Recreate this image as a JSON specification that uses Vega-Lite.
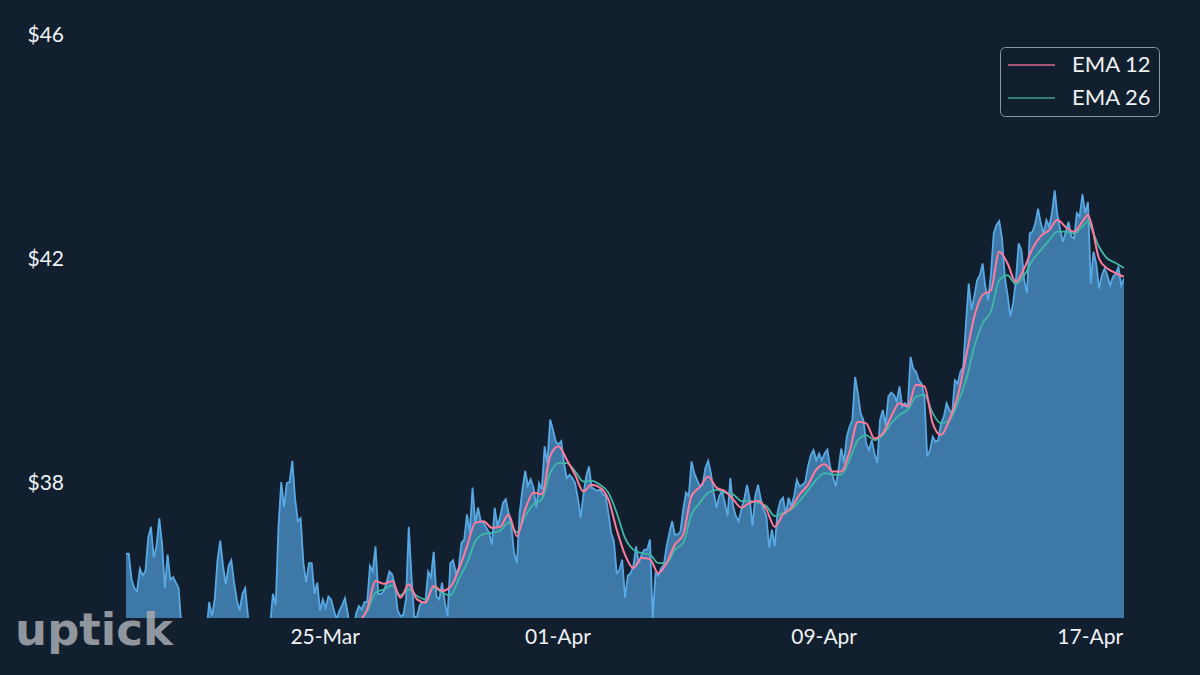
{"$schema":"https://vega.github.io/schema/vega-lite/v6.json","width":998,"height":598,"autosize":{"type":"none"},"padding":{"left":126,"top":20,"right":76,"bottom":57},"background":"#121f2e","config":{"view":{"stroke":null},"font":"Lato","axis":{"grid":false,"ticks":false,"domain":false,"title":null,"labelFont":"Lato","labelFontSize":21,"labelColor":"#eef2f5"}},
"datasets":{"price":[
{"t":"2019-03-19T00:00Z","p":36.72},{"t":"2019-03-19T02:00Z","p":36.72},{"t":"2019-03-19T04:00Z","p":36.26},{"t":"2019-03-19T06:00Z","p":36.1},{"t":"2019-03-19T08:00Z","p":36.05},{"t":"2019-03-19T10:00Z","p":36.45},{"t":"2019-03-19T12:00Z","p":36.33},{"t":"2019-03-19T14:00Z","p":36.4},{"t":"2019-03-19T16:00Z","p":37.0},{"t":"2019-03-19T18:00Z","p":37.2},{"t":"2019-03-19T20:00Z","p":36.65},{"t":"2019-03-19T22:00Z","p":36.85},
{"t":"2019-03-20T00:00Z","p":37.35},{"t":"2019-03-20T02:00Z","p":36.9},{"t":"2019-03-20T04:00Z","p":36.1},{"t":"2019-03-20T06:00Z","p":36.7},{"t":"2019-03-20T08:00Z","p":36.25},{"t":"2019-03-20T10:00Z","p":36.3},{"t":"2019-03-20T12:00Z","p":36.2},{"t":"2019-03-20T14:00Z","p":36.1},{"t":"2019-03-20T16:00Z","p":35.4},{"t":"2019-03-20T18:00Z","p":35.3},{"t":"2019-03-20T20:00Z","p":35.3},{"t":"2019-03-20T22:00Z","p":35.3},
{"t":"2019-03-21T00:00Z","p":35.3},{"t":"2019-03-21T02:00Z","p":35.3},{"t":"2019-03-21T04:00Z","p":35.3},{"t":"2019-03-21T06:00Z","p":35.3},{"t":"2019-03-21T08:00Z","p":35.3},{"t":"2019-03-21T10:00Z","p":35.3},{"t":"2019-03-21T12:00Z","p":35.85},{"t":"2019-03-21T14:00Z","p":35.6},{"t":"2019-03-21T16:00Z","p":35.9},{"t":"2019-03-21T18:00Z","p":36.6},{"t":"2019-03-21T20:00Z","p":36.95},{"t":"2019-03-21T22:00Z","p":36.5},
{"t":"2019-03-22T00:00Z","p":36.17},{"t":"2019-03-22T02:00Z","p":36.5},{"t":"2019-03-22T04:00Z","p":36.6},{"t":"2019-03-22T06:00Z","p":36.2},{"t":"2019-03-22T08:00Z","p":35.88},{"t":"2019-03-22T10:00Z","p":35.7},{"t":"2019-03-22T12:00Z","p":36.0},{"t":"2019-03-22T14:00Z","p":36.1},{"t":"2019-03-22T16:00Z","p":35.6},{"t":"2019-03-22T18:00Z","p":35.3},{"t":"2019-03-22T20:00Z","p":35.3},{"t":"2019-03-22T22:00Z","p":35.3},
{"t":"2019-03-23T00:00Z","p":35.3},{"t":"2019-03-23T02:00Z","p":35.3},{"t":"2019-03-23T04:00Z","p":35.3},{"t":"2019-03-23T06:00Z","p":35.3},{"t":"2019-03-23T08:00Z","p":35.45},{"t":"2019-03-23T10:00Z","p":36.0},{"t":"2019-03-23T12:00Z","p":35.8},{"t":"2019-03-23T14:00Z","p":37.2},{"t":"2019-03-23T16:00Z","p":38.0},{"t":"2019-03-23T18:00Z","p":37.55},{"t":"2019-03-23T20:00Z","p":37.98},{"t":"2019-03-23T22:00Z","p":38.0},
{"t":"2019-03-24T00:00Z","p":38.38},{"t":"2019-03-24T02:00Z","p":37.7},{"t":"2019-03-24T04:00Z","p":37.3},{"t":"2019-03-24T06:00Z","p":37.35},{"t":"2019-03-24T08:00Z","p":36.55},{"t":"2019-03-24T10:00Z","p":36.2},{"t":"2019-03-24T12:00Z","p":36.55},{"t":"2019-03-24T14:00Z","p":36.55},{"t":"2019-03-24T16:00Z","p":36.0},{"t":"2019-03-24T18:00Z","p":36.2},{"t":"2019-03-24T20:00Z","p":35.7},{"t":"2019-03-24T22:00Z","p":35.9},
{"t":"2019-03-25T00:00Z","p":35.75},{"t":"2019-03-25T02:00Z","p":35.95},{"t":"2019-03-25T04:00Z","p":35.9},{"t":"2019-03-25T06:00Z","p":35.7},{"t":"2019-03-25T08:00Z","p":35.55},{"t":"2019-03-25T10:00Z","p":35.7},{"t":"2019-03-25T12:00Z","p":35.8},{"t":"2019-03-25T14:00Z","p":35.92},{"t":"2019-03-25T16:00Z","p":35.65},{"t":"2019-03-25T18:00Z","p":35.3},{"t":"2019-03-25T20:00Z","p":35.35},{"t":"2019-03-25T22:00Z","p":35.65},
{"t":"2019-03-26T00:00Z","p":35.78},{"t":"2019-03-26T02:00Z","p":35.72},{"t":"2019-03-26T04:00Z","p":35.85},{"t":"2019-03-26T06:00Z","p":35.85},{"t":"2019-03-26T08:00Z","p":36.5},{"t":"2019-03-26T10:00Z","p":36.4},{"t":"2019-03-26T12:00Z","p":36.85},{"t":"2019-03-26T14:00Z","p":36.0},{"t":"2019-03-26T16:00Z","p":36.0},{"t":"2019-03-26T18:00Z","p":36.05},{"t":"2019-03-26T20:00Z","p":36.2},{"t":"2019-03-26T22:00Z","p":36.4},
{"t":"2019-03-27T00:00Z","p":36.35},{"t":"2019-03-27T02:00Z","p":36.15},{"t":"2019-03-27T04:00Z","p":35.7},{"t":"2019-03-27T06:00Z","p":35.6},{"t":"2019-03-27T08:00Z","p":35.62},{"t":"2019-03-27T10:00Z","p":35.9},{"t":"2019-03-27T12:00Z","p":37.2},{"t":"2019-03-27T14:00Z","p":36.3},{"t":"2019-03-27T16:00Z","p":35.57},{"t":"2019-03-27T18:00Z","p":35.6},{"t":"2019-03-27T20:00Z","p":35.8},{"t":"2019-03-27T22:00Z","p":35.85},
{"t":"2019-03-28T00:00Z","p":35.85},{"t":"2019-03-28T02:00Z","p":36.4},{"t":"2019-03-28T04:00Z","p":36.3},{"t":"2019-03-28T06:00Z","p":36.75},{"t":"2019-03-28T08:00Z","p":35.95},{"t":"2019-03-28T10:00Z","p":35.9},{"t":"2019-03-28T12:00Z","p":36.2},{"t":"2019-03-28T14:00Z","p":35.85},{"t":"2019-03-28T16:00Z","p":35.6},{"t":"2019-03-28T18:00Z","p":36.55},{"t":"2019-03-28T20:00Z","p":36.6},{"t":"2019-03-28T22:00Z","p":36.37},
{"t":"2019-03-29T00:00Z","p":36.46},{"t":"2019-03-29T02:00Z","p":36.91},{"t":"2019-03-29T04:00Z","p":36.97},{"t":"2019-03-29T06:00Z","p":37.42},{"t":"2019-03-29T08:00Z","p":37.09},{"t":"2019-03-29T10:00Z","p":37.9},{"t":"2019-03-29T12:00Z","p":37.27},{"t":"2019-03-29T14:00Z","p":37.54},{"t":"2019-03-29T16:00Z","p":37.3},{"t":"2019-03-29T18:00Z","p":37.27},{"t":"2019-03-29T20:00Z","p":37.18},{"t":"2019-03-29T22:00Z","p":37.09},
{"t":"2019-03-30T00:00Z","p":36.88},{"t":"2019-03-30T02:00Z","p":37.54},{"t":"2019-03-30T04:00Z","p":37.2},{"t":"2019-03-30T06:00Z","p":37.39},{"t":"2019-03-30T08:00Z","p":37.63},{"t":"2019-03-30T10:00Z","p":37.69},{"t":"2019-03-30T12:00Z","p":37.45},{"t":"2019-03-30T14:00Z","p":37.21},{"t":"2019-03-30T16:00Z","p":36.73},{"t":"2019-03-30T18:00Z","p":36.55},{"t":"2019-03-30T20:00Z","p":37.45},{"t":"2019-03-30T22:00Z","p":37.87},
{"t":"2019-03-31T00:00Z","p":38.2},{"t":"2019-03-31T02:00Z","p":37.93},{"t":"2019-03-31T04:00Z","p":38.05},{"t":"2019-03-31T06:00Z","p":37.9},{"t":"2019-03-31T08:00Z","p":37.54},{"t":"2019-03-31T10:00Z","p":37.98},{"t":"2019-03-31T12:00Z","p":37.87},{"t":"2019-03-31T14:00Z","p":38.64},{"t":"2019-03-31T16:00Z","p":38.34},{"t":"2019-03-31T18:00Z","p":39.12},{"t":"2019-03-31T20:00Z","p":38.94},{"t":"2019-03-31T22:00Z","p":38.73},
{"t":"2019-04-01T00:00Z","p":38.67},{"t":"2019-04-01T02:00Z","p":38.73},{"t":"2019-04-01T04:00Z","p":38.34},{"t":"2019-04-01T06:00Z","p":38.07},{"t":"2019-04-01T08:00Z","p":38.13},{"t":"2019-04-01T10:00Z","p":38.07},{"t":"2019-04-01T12:00Z","p":37.98},{"t":"2019-04-01T14:00Z","p":37.71},{"t":"2019-04-01T16:00Z","p":37.36},{"t":"2019-04-01T18:00Z","p":37.78},{"t":"2019-04-01T20:00Z","p":38.1},{"t":"2019-04-01T22:00Z","p":38.28},
{"t":"2019-04-02T00:00Z","p":37.9},{"t":"2019-04-02T02:00Z","p":37.87},{"t":"2019-04-02T04:00Z","p":37.84},{"t":"2019-04-02T06:00Z","p":37.87},{"t":"2019-04-02T08:00Z","p":37.78},{"t":"2019-04-02T10:00Z","p":37.75},{"t":"2019-04-02T12:00Z","p":37.45},{"t":"2019-04-02T14:00Z","p":37.09},{"t":"2019-04-02T16:00Z","p":36.94},{"t":"2019-04-02T18:00Z","p":36.37},{"t":"2019-04-02T20:00Z","p":36.43},{"t":"2019-04-02T22:00Z","p":36.61},
{"t":"2019-04-03T00:00Z","p":35.93},{"t":"2019-04-03T02:00Z","p":36.32},{"t":"2019-04-03T04:00Z","p":36.37},{"t":"2019-04-03T06:00Z","p":36.49},{"t":"2019-04-03T08:00Z","p":36.85},{"t":"2019-04-03T10:00Z","p":36.55},{"t":"2019-04-03T12:00Z","p":36.7},{"t":"2019-04-03T14:00Z","p":36.79},{"t":"2019-04-03T16:00Z","p":36.79},{"t":"2019-04-03T18:00Z","p":36.97},{"t":"2019-04-03T20:00Z","p":35.55},{"t":"2019-04-03T22:00Z","p":36.37},
{"t":"2019-04-04T00:00Z","p":36.32},{"t":"2019-04-04T02:00Z","p":36.46},{"t":"2019-04-04T04:00Z","p":36.52},{"t":"2019-04-04T06:00Z","p":36.85},{"t":"2019-04-04T08:00Z","p":37.09},{"t":"2019-04-04T10:00Z","p":37.3},{"t":"2019-04-04T12:00Z","p":37.06},{"t":"2019-04-04T14:00Z","p":37.06},{"t":"2019-04-04T16:00Z","p":37.12},{"t":"2019-04-04T18:00Z","p":37.51},{"t":"2019-04-04T20:00Z","p":37.81},{"t":"2019-04-04T22:00Z","p":37.75},
{"t":"2019-04-05T00:00Z","p":38.37},{"t":"2019-04-05T02:00Z","p":38.16},{"t":"2019-04-05T04:00Z","p":38.04},{"t":"2019-04-05T06:00Z","p":37.92},{"t":"2019-04-05T08:00Z","p":37.95},{"t":"2019-04-05T10:00Z","p":38.25},{"t":"2019-04-05T12:00Z","p":38.38},{"t":"2019-04-05T14:00Z","p":38.16},{"t":"2019-04-05T16:00Z","p":37.81},{"t":"2019-04-05T18:00Z","p":37.54},{"t":"2019-04-05T20:00Z","p":37.75},{"t":"2019-04-05T22:00Z","p":37.84},
{"t":"2019-04-06T00:00Z","p":37.63},{"t":"2019-04-06T02:00Z","p":37.39},{"t":"2019-04-06T04:00Z","p":38.07},{"t":"2019-04-06T06:00Z","p":37.57},{"t":"2019-04-06T08:00Z","p":37.39},{"t":"2019-04-06T10:00Z","p":37.3},{"t":"2019-04-06T12:00Z","p":37.51},{"t":"2019-04-06T14:00Z","p":37.69},{"t":"2019-04-06T16:00Z","p":37.95},{"t":"2019-04-06T18:00Z","p":37.69},{"t":"2019-04-06T20:00Z","p":37.21},{"t":"2019-04-06T22:00Z","p":37.75},
{"t":"2019-04-07T00:00Z","p":37.95},{"t":"2019-04-07T02:00Z","p":37.69},{"t":"2019-04-07T04:00Z","p":37.51},{"t":"2019-04-07T06:00Z","p":37.39},{"t":"2019-04-07T08:00Z","p":36.82},{"t":"2019-04-07T10:00Z","p":37.15},{"t":"2019-04-07T12:00Z","p":36.85},{"t":"2019-04-07T14:00Z","p":37.45},{"t":"2019-04-07T16:00Z","p":37.66},{"t":"2019-04-07T18:00Z","p":37.72},{"t":"2019-04-07T20:00Z","p":37.42},{"t":"2019-04-07T22:00Z","p":37.72},
{"t":"2019-04-08T00:00Z","p":37.57},{"t":"2019-04-08T02:00Z","p":37.75},{"t":"2019-04-08T04:00Z","p":38.04},{"t":"2019-04-08T06:00Z","p":37.92},{"t":"2019-04-08T08:00Z","p":37.95},{"t":"2019-04-08T10:00Z","p":38.0},{"t":"2019-04-08T12:00Z","p":38.28},{"t":"2019-04-08T14:00Z","p":38.48},{"t":"2019-04-08T16:00Z","p":38.57},{"t":"2019-04-08T18:00Z","p":38.39},{"t":"2019-04-08T20:00Z","p":38.51},{"t":"2019-04-08T22:00Z","p":38.39},
{"t":"2019-04-09T00:00Z","p":38.51},{"t":"2019-04-09T02:00Z","p":38.58},{"t":"2019-04-09T04:00Z","p":38.28},{"t":"2019-04-09T06:00Z","p":38.1},{"t":"2019-04-09T08:00Z","p":37.92},{"t":"2019-04-09T10:00Z","p":38.22},{"t":"2019-04-09T12:00Z","p":38.6},{"t":"2019-04-09T14:00Z","p":38.34},{"t":"2019-04-09T16:00Z","p":38.81},{"t":"2019-04-09T18:00Z","p":38.99},{"t":"2019-04-09T20:00Z","p":39.11},{"t":"2019-04-09T22:00Z","p":39.88},
{"t":"2019-04-10T00:00Z","p":39.59},{"t":"2019-04-10T02:00Z","p":39.23},{"t":"2019-04-10T04:00Z","p":39.11},{"t":"2019-04-10T06:00Z","p":38.69},{"t":"2019-04-10T08:00Z","p":38.57},{"t":"2019-04-10T10:00Z","p":38.75},{"t":"2019-04-10T12:00Z","p":38.51},{"t":"2019-04-10T14:00Z","p":38.34},{"t":"2019-04-10T16:00Z","p":39.11},{"t":"2019-04-10T18:00Z","p":39.29},{"t":"2019-04-10T20:00Z","p":39.02},{"t":"2019-04-10T22:00Z","p":39.53},
{"t":"2019-04-11T00:00Z","p":39.6},{"t":"2019-04-11T02:00Z","p":39.56},{"t":"2019-04-11T04:00Z","p":39.44},{"t":"2019-04-11T06:00Z","p":39.71},{"t":"2019-04-11T08:00Z","p":39.35},{"t":"2019-04-11T10:00Z","p":39.41},{"t":"2019-04-11T12:00Z","p":39.35},{"t":"2019-04-11T14:00Z","p":40.24},{"t":"2019-04-11T16:00Z","p":40.03},{"t":"2019-04-11T18:00Z","p":39.97},{"t":"2019-04-11T20:00Z","p":39.82},{"t":"2019-04-11T22:00Z","p":39.76},
{"t":"2019-04-12T00:00Z","p":39.53},{"t":"2019-04-12T02:00Z","p":38.46},{"t":"2019-04-12T04:00Z","p":38.57},{"t":"2019-04-12T06:00Z","p":38.81},{"t":"2019-04-12T08:00Z","p":38.72},{"t":"2019-04-12T10:00Z","p":38.75},{"t":"2019-04-12T12:00Z","p":39.05},{"t":"2019-04-12T14:00Z","p":39.17},{"t":"2019-04-12T16:00Z","p":39.41},{"t":"2019-04-12T18:00Z","p":39.29},{"t":"2019-04-12T20:00Z","p":39.23},{"t":"2019-04-12T22:00Z","p":39.82},
{"t":"2019-04-13T00:00Z","p":39.76},{"t":"2019-04-13T02:00Z","p":39.97},{"t":"2019-04-13T04:00Z","p":40.06},{"t":"2019-04-13T06:00Z","p":40.84},{"t":"2019-04-13T08:00Z","p":41.55},{"t":"2019-04-13T10:00Z","p":41.08},{"t":"2019-04-13T12:00Z","p":41.32},{"t":"2019-04-13T14:00Z","p":41.61},{"t":"2019-04-13T16:00Z","p":41.7},{"t":"2019-04-13T18:00Z","p":41.91},{"t":"2019-04-13T20:00Z","p":41.49},{"t":"2019-04-13T22:00Z","p":41.25},
{"t":"2019-04-14T00:00Z","p":41.73},{"t":"2019-04-14T02:00Z","p":42.45},{"t":"2019-04-14T04:00Z","p":42.6},{"t":"2019-04-14T06:00Z","p":42.67},{"t":"2019-04-14T08:00Z","p":42.36},{"t":"2019-04-14T10:00Z","p":41.67},{"t":"2019-04-14T12:00Z","p":41.35},{"t":"2019-04-14T14:00Z","p":40.96},{"t":"2019-04-14T16:00Z","p":41.2},{"t":"2019-04-14T18:00Z","p":41.61},{"t":"2019-04-14T20:00Z","p":42.27},{"t":"2019-04-14T22:00Z","p":42.15},
{"t":"2019-04-15T00:00Z","p":41.61},{"t":"2019-04-15T02:00Z","p":41.38},{"t":"2019-04-15T04:00Z","p":42.45},{"t":"2019-04-15T06:00Z","p":42.48},{"t":"2019-04-15T08:00Z","p":42.63},{"t":"2019-04-15T10:00Z","p":42.89},{"t":"2019-04-15T12:00Z","p":42.63},{"t":"2019-04-15T14:00Z","p":42.45},{"t":"2019-04-15T16:00Z","p":42.69},{"t":"2019-04-15T18:00Z","p":42.57},{"t":"2019-04-15T20:00Z","p":42.81},{"t":"2019-04-15T22:00Z","p":43.22},
{"t":"2019-04-16T00:00Z","p":42.77},{"t":"2019-04-16T02:00Z","p":42.51},{"t":"2019-04-16T04:00Z","p":42.3},{"t":"2019-04-16T06:00Z","p":42.48},{"t":"2019-04-16T08:00Z","p":42.66},{"t":"2019-04-16T10:00Z","p":42.39},{"t":"2019-04-16T12:00Z","p":42.36},{"t":"2019-04-16T14:00Z","p":42.81},{"t":"2019-04-16T16:00Z","p":42.75},{"t":"2019-04-16T18:00Z","p":43.15},{"t":"2019-04-16T20:00Z","p":42.81},{"t":"2019-04-16T22:00Z","p":43.01},
{"t":"2019-04-17T00:00Z","p":41.55},{"t":"2019-04-17T02:00Z","p":42.12},{"t":"2019-04-17T04:00Z","p":41.91},{"t":"2019-04-17T06:00Z","p":41.46},{"t":"2019-04-17T08:00Z","p":41.7},{"t":"2019-04-17T10:00Z","p":41.82},{"t":"2019-04-17T12:00Z","p":41.7},{"t":"2019-04-17T14:00Z","p":41.52},{"t":"2019-04-17T16:00Z","p":41.67},{"t":"2019-04-17T18:00Z","p":41.73},{"t":"2019-04-17T20:00Z","p":41.85},{"t":"2019-04-17T22:00Z","p":41.52},
{"t":"2019-04-18T00:00Z","p":41.64}],
"ema":[
{"t":"2019-03-26T00:00Z","e12":35.5,"e26":35.5},{"t":"2019-03-26T06:00Z","e12":35.72,"e26":35.69},{"t":"2019-03-26T12:00Z","e12":36.23,"e26":36.02},{"t":"2019-03-26T18:00Z","e12":36.18,"e26":36.08},
{"t":"2019-03-27T00:00Z","e12":36.23,"e26":36.15},{"t":"2019-03-27T06:00Z","e12":35.93,"e26":35.97},{"t":"2019-03-27T12:00Z","e12":36.17,"e26":36.08},{"t":"2019-03-27T18:00Z","e12":35.9,"e26":35.96},
{"t":"2019-03-28T00:00Z","e12":35.84,"e26":35.9},{"t":"2019-03-28T06:00Z","e12":36.14,"e26":36.11},{"t":"2019-03-28T12:00Z","e12":36.05,"e26":36.02},{"t":"2019-03-28T18:00Z","e12":36.12,"e26":35.97},
{"t":"2019-03-29T00:00Z","e12":36.43,"e26":36.26},{"t":"2019-03-29T06:00Z","e12":36.85,"e26":36.55},{"t":"2019-03-29T12:00Z","e12":37.27,"e26":36.94},{"t":"2019-03-29T18:00Z","e12":37.3,"e26":37.07},
{"t":"2019-03-30T00:00Z","e12":37.18,"e26":37.09},{"t":"2019-03-30T06:00Z","e12":37.2,"e26":37.13},{"t":"2019-03-30T12:00Z","e12":37.42,"e26":37.28},{"t":"2019-03-30T18:00Z","e12":37.03,"e26":37.1},
{"t":"2019-03-31T00:00Z","e12":37.51,"e26":37.39},{"t":"2019-03-31T06:00Z","e12":37.81,"e26":37.6},{"t":"2019-03-31T12:00Z","e12":37.78,"e26":37.69},{"t":"2019-03-31T18:00Z","e12":38.46,"e26":38.16},
{"t":"2019-04-01T00:00Z","e12":38.64,"e26":38.34},{"t":"2019-04-01T06:00Z","e12":38.4,"e26":38.34},{"t":"2019-04-01T12:00Z","e12":38.13,"e26":38.19},{"t":"2019-04-01T18:00Z","e12":37.83,"e26":38.01},
{"t":"2019-04-02T00:00Z","e12":37.95,"e26":38.02},{"t":"2019-04-02T06:00Z","e12":37.9,"e26":37.95},{"t":"2019-04-02T12:00Z","e12":37.69,"e26":37.81},{"t":"2019-04-02T18:00Z","e12":37.15,"e26":37.45},
{"t":"2019-04-03T00:00Z","e12":36.7,"e26":37.0},{"t":"2019-04-03T06:00Z","e12":36.46,"e26":36.79},{"t":"2019-04-03T12:00Z","e12":36.64,"e26":36.73},{"t":"2019-04-03T18:00Z","e12":36.62,"e26":36.7},
{"t":"2019-04-04T00:00Z","e12":36.37,"e26":36.55},{"t":"2019-04-04T06:00Z","e12":36.55,"e26":36.55},{"t":"2019-04-04T12:00Z","e12":36.88,"e26":36.79},{"t":"2019-04-04T18:00Z","e12":37.06,"e26":36.91},
{"t":"2019-04-05T00:00Z","e12":37.75,"e26":37.42},{"t":"2019-04-05T06:00Z","e12":37.91,"e26":37.63},{"t":"2019-04-05T12:00Z","e12":38.1,"e26":37.81},{"t":"2019-04-05T18:00Z","e12":37.9,"e26":37.86},
{"t":"2019-04-06T00:00Z","e12":37.84,"e26":37.81},{"t":"2019-04-06T06:00Z","e12":37.69,"e26":37.78},{"t":"2019-04-06T12:00Z","e12":37.54,"e26":37.66},{"t":"2019-04-06T18:00Z","e12":37.63,"e26":37.66},
{"t":"2019-04-07T00:00Z","e12":37.66,"e26":37.63},{"t":"2019-04-07T06:00Z","e12":37.51,"e26":37.57},{"t":"2019-04-07T12:00Z","e12":37.2,"e26":37.39},{"t":"2019-04-07T18:00Z","e12":37.42,"e26":37.45},
{"t":"2019-04-08T00:00Z","e12":37.54,"e26":37.51},{"t":"2019-04-08T06:00Z","e12":37.78,"e26":37.66},{"t":"2019-04-08T12:00Z","e12":37.95,"e26":37.85},{"t":"2019-04-08T18:00Z","e12":38.22,"e26":38.04},
{"t":"2019-04-09T00:00Z","e12":38.32,"e26":38.16},{"t":"2019-04-09T06:00Z","e12":38.19,"e26":38.13},{"t":"2019-04-09T12:00Z","e12":38.19,"e26":38.13},{"t":"2019-04-09T18:00Z","e12":38.54,"e26":38.4},
{"t":"2019-04-10T00:00Z","e12":39.08,"e26":38.75},{"t":"2019-04-10T06:00Z","e12":39.05,"e26":38.84},{"t":"2019-04-10T12:00Z","e12":38.78,"e26":38.75},{"t":"2019-04-10T18:00Z","e12":38.87,"e26":38.84},
{"t":"2019-04-11T00:00Z","e12":39.17,"e26":39.05},{"t":"2019-04-11T06:00Z","e12":39.41,"e26":39.2},{"t":"2019-04-11T12:00Z","e12":39.35,"e26":39.29},{"t":"2019-04-11T18:00Z","e12":39.74,"e26":39.53},
{"t":"2019-04-12T00:00Z","e12":39.71,"e26":39.56},{"t":"2019-04-12T06:00Z","e12":39.05,"e26":39.23},{"t":"2019-04-12T12:00Z","e12":38.84,"e26":39.05},{"t":"2019-04-12T18:00Z","e12":39.11,"e26":39.11},
{"t":"2019-04-13T00:00Z","e12":39.53,"e26":39.41},{"t":"2019-04-13T06:00Z","e12":40.24,"e26":39.82},{"t":"2019-04-13T12:00Z","e12":40.96,"e26":40.42},{"t":"2019-04-13T18:00Z","e12":41.35,"e26":40.84},
{"t":"2019-04-14T00:00Z","e12":41.43,"e26":41.05},{"t":"2019-04-14T06:00Z","e12":42.12,"e26":41.61},{"t":"2019-04-14T12:00Z","e12":41.91,"e26":41.7},{"t":"2019-04-14T18:00Z","e12":41.58,"e26":41.54},
{"t":"2019-04-15T00:00Z","e12":41.82,"e26":41.7},{"t":"2019-04-15T06:00Z","e12":42.18,"e26":41.97},{"t":"2019-04-15T12:00Z","e12":42.4,"e26":42.15},{"t":"2019-04-15T18:00Z","e12":42.51,"e26":42.33},
{"t":"2019-04-16T00:00Z","e12":42.69,"e26":42.48},{"t":"2019-04-16T06:00Z","e12":42.56,"e26":42.48},{"t":"2019-04-16T12:00Z","e12":42.48,"e26":42.45},{"t":"2019-04-16T18:00Z","e12":42.66,"e26":42.57},{"t":"2019-04-16T22:00Z","e12":42.78,"e26":42.67},
{"t":"2019-04-17T00:00Z","e12":42.66,"e26":42.57},{"t":"2019-04-17T06:00Z","e12":42.0,"e26":42.21},{"t":"2019-04-17T12:00Z","e12":41.82,"e26":42.0},{"t":"2019-04-17T18:00Z","e12":41.74,"e26":41.92},
{"t":"2019-04-18T00:00Z","e12":41.67,"e26":41.83}]},
"layer":[
{"data":{"name":"price"},"mark":{"type":"area","color":"#3d78a6","clip":true},"encoding":{"x":{"field":"t","type":"temporal","scale":{"type":"utc","domain":[{"year":2019,"month":3,"date":19,"utc":true},{"year":2019,"month":4,"date":18,"utc":true}]},"axis":{"values":[{"year":2019,"month":3,"date":25,"utc":true},{"year":2019,"month":4,"date":1,"utc":true},{"year":2019,"month":4,"date":9,"utc":true},{"year":2019,"month":4,"date":17,"utc":true}],"format":"%d-%b","labelPadding":8,"labelOverlap":false,"labelOffset":-1}},"y":{"field":"p","type":"quantitative","stack":null,"scale":{"domain":[35.567,46.268],"zero":false,"nice":false},"axis":{"values":[38,42,46],"format":"$.0f","labelAlign":"left","labelPadding":99,"labelOffset":1}}}},
{"data":{"name":"price"},"mark":{"type":"line","color":"#58a9e3","strokeWidth":1.8,"clip":true},"encoding":{"x":{"field":"t","type":"temporal"},"y":{"field":"p","type":"quantitative"}}},
{"data":{"name":"ema"},"mark":{"type":"line","strokeWidth":1.8,"interpolate":"monotone","clip":true},"encoding":{"x":{"field":"t","type":"temporal"},"y":{"field":"e26","type":"quantitative"},"color":{"datum":"EMA 26"}}},
{"data":{"name":"ema"},"mark":{"type":"line","strokeWidth":2,"interpolate":"monotone","clip":true},"encoding":{"x":{"field":"t","type":"temporal"},"y":{"field":"e12","type":"quantitative"},"color":{"datum":"EMA 12","scale":{"domain":["EMA 12","EMA 26"],"range":["#ff7a9c","#3fb8a6"]},"legend":{"title":null,"orient":"none","legendX":874,"legendY":27,"padding":7,"strokeColor":"#8d98a3","fillColor":"#121f2e","cornerRadius":5,"symbolType":"M-1,0H3.7","symbolSize":400,"symbolStrokeWidth":1.6,"symbolOpacity":0.85,"labelFont":"Lato","labelFontSize":22,"labelColor":"#eef2f5","labelOffset":43,"rowPadding":11}}}},
{"data":{"values":[{"t":"2019-03-15T16:00Z","v":35.09,"name":"uptick"}]},"mark":{"type":"text","font":"DejaVu Sans","fontWeight":"bold","fontSize":45,"align":"left","baseline":"alphabetic","color":"#a6abb1","opacity":0.85},"encoding":{"x":{"field":"t","type":"temporal"},"y":{"field":"v","type":"quantitative"},"text":{"field":"name"}}}
]}
